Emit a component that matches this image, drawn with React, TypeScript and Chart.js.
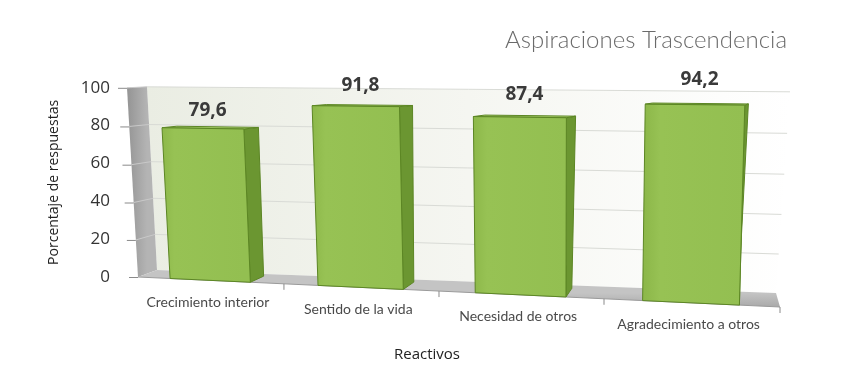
import React, { useEffect, useRef } from "react";
import { Chart, registerables } from "chart.js";

Chart.register(...registerables);

// ---------- data ----------
const categories = [
  "Crecimiento interior",
  "Sentido de la vida",
  "Necesidad de otros",
  "Agradecimiento a otros",
];
const values = [79.6, 91.8, 87.4, 94.2];
const valueLabels = ["79,6", "91,8", "87,4", "94,2"];
const yTickValues = [0, 20, 40, 60, 80, 100];
const chartTitle = "Aspiraciones Trascendencia";
const yAxisTitle = "Porcentaje de respuestas";
const xAxisTitle = "Reactivos";

type Pt = [number, number];

function squareToQuad(q: Pt[]) {
  const [p0, p1, p2, p3] = q;
  const dx1 = p1[0] - p2[0], dx2 = p3[0] - p2[0], dx3 = p0[0] - p1[0] + p2[0] - p3[0];
  const dy1 = p1[1] - p2[1], dy2 = p3[1] - p2[1], dy3 = p0[1] - p1[1] + p2[1] - p3[1];
  const den = dx1 * dy2 - dx2 * dy1;
  const g = (dx3 * dy2 - dx2 * dy3) / den;
  const h = (dx1 * dy3 - dx3 * dy1) / den;
  const a = p1[0] - p0[0] + g * p1[0], b = p3[0] - p0[0] + h * p3[0], c = p0[0];
  const d = p1[1] - p0[1] + g * p1[1], e = p3[1] - p0[1] + h * p3[1], f = p0[1];
  return (u: number, v: number): Pt => {
    const w = g * u + h * v + 1;
    return [(a * u + b * v + c) / w, (d * u + e * v + f) / w];
  };
}

function makeWarp(chart: any) {
  const { left: L, right: R, top: T, bottom: B } = chart.chartArea;
  const front = squareToQuad([[L, T], [R, T + 5], [R - 7, B + 30], [L + 11, B]]);
  const back = squareToQuad([[L + 20, T - 1], [R + 3, T + 4], [R - 11, B + 16], [L + 30, B - 7]]);
  const P = (u: number, t: number, z: number): Pt => {
    const f = front(u, t), b = back(u, t);
    return [f[0] + (b[0] - f[0]) * z, f[1] + (b[1] - f[1]) * z];
  };
  const toU = (x: number) => (x - L) / (R - L);
  const toT = (y: number) => (y - T) / (B - T);
  return { P, toU, toT };
}

function poly(ctx: CanvasRenderingContext2D, pts: Pt[]) {
  ctx.beginPath();
  ctx.moveTo(pts[0][0], pts[0][1]);
  for (let i = 1; i < pts.length; i++) ctx.lineTo(pts[i][0], pts[i][1]);
  ctx.closePath();
}

const perspectivePlugin = {
  id: "perspective3d",
  beforeDatasetsDraw(chart: any) {
    const ctx: CanvasRenderingContext2D = chart.ctx;
    const { P, toU, toT } = makeWarp(chart);
    const yScale = chart.scales.y;
    const ZB = 0.75;
    ctx.save();

    // back wall
    const bw: Pt[] = [P(0, 0, 1), P(1, 0, 1), P(1, 1, 1), P(0, 1, 1)];
    const gBack = ctx.createLinearGradient(bw[0][0], 0, bw[1][0], 0);
    gBack.addColorStop(0, "#eaede3");
    gBack.addColorStop(0.5, "#f5f6f1");
    gBack.addColorStop(1, "#ffffff");
    poly(ctx, bw);
    ctx.fillStyle = gBack;
    ctx.fill();

    // gridlines on back wall
    ctx.lineWidth = 1;
    for (const v of yTickValues) {
      if (v === 0) continue;
      const t = toT(yScale.getPixelForValue(v));
      const a = P(0, t, 1), b = P(1, t, 1);
      ctx.strokeStyle = "#d9dbd6";
      ctx.beginPath();
      ctx.moveTo(a[0], a[1]);
      ctx.lineTo(b[0], b[1]);
      ctx.stroke();
    }

    // left wall
    const lw: Pt[] = [P(0, 0, 0), P(0, 0, 1), P(0, 1, 1), P(0, 1, 0)];
    const gLeft = ctx.createLinearGradient(lw[0][0], 0, lw[1][0], 0);
    gLeft.addColorStop(0, "#949494");
    gLeft.addColorStop(1, "#b4b4b4");
    poly(ctx, lw);
    ctx.fillStyle = gLeft;
    ctx.fill();
    for (const v of yTickValues) {
      const t = toT(yScale.getPixelForValue(v));
      const a = P(0, t, 0), b = P(0, t, 1);
      if (v !== 0) {
        ctx.strokeStyle = "#c9c9c9";
        ctx.beginPath();
        ctx.moveTo(a[0], a[1]);
        ctx.lineTo(b[0], b[1]);
        ctx.stroke();
      }
      // tick mark
      ctx.strokeStyle = "#8a8a8a";
      ctx.beginPath();
      ctx.moveTo(a[0] - 9, a[1] + 0.5);
      ctx.lineTo(a[0], a[1] + 0.5);
      ctx.stroke();
    }

    // floor
    const fl: Pt[] = [P(0, 1, 0), P(1, 1, 0), P(1, 1, 1), P(0, 1, 1)];
    const gFloor = ctx.createLinearGradient(0, fl[2][1], 0, fl[1][1]);
    gFloor.addColorStop(0, "#c4c4c4");
    gFloor.addColorStop(1, "#a9a9a9");
    poly(ctx, fl);
    ctx.fillStyle = gFloor;
    ctx.fill();
    ctx.strokeStyle = "#9a9a9a";
    ctx.beginPath();
    ctx.moveTo(fl[0][0], fl[0][1]);
    ctx.lineTo(fl[1][0], fl[1][1]);
    ctx.stroke();

    // x tick marks
    const n = categories.length;
    ctx.strokeStyle = "#8a8a8a";
    for (let i = 1; i <= n; i++) {
      const p = P(i / n, 1, 0);
      ctx.beginPath();
      ctx.moveTo(p[0], p[1]);
      ctx.lineTo(p[0], p[1] + 6);
      ctx.stroke();
    }

    // bars
    const meta = chart.getDatasetMeta(0);
    meta.data.forEach((el: any, i: number) => {
      const { x, y, base, width } = el.getProps(["x", "y", "base", "width"], true);
      const u0 = toU(x - width / 2), u1 = toU(x + width / 2);
      const t0 = toT(y), t1 = toT(base);
      const side: Pt[] = [P(u1, t0, 0), P(u1, t0, ZB), P(u1, t1, ZB), P(u1, t1, 0)];
      const top: Pt[] = [P(u0, t0, 0), P(u1, t0, 0), P(u1, t0, ZB), P(u0, t0, ZB)];
      const front: Pt[] = [P(u0, t0, 0), P(u1, t0, 0), P(u1, t1, 0), P(u0, t1, 0)];
      ctx.lineJoin = "round";
      ctx.lineWidth = 1;
      ctx.strokeStyle = "#5c8624";
      poly(ctx, side);
      ctx.fillStyle = "#6b9631";
      ctx.fill();
      ctx.stroke();
      poly(ctx, top);
      ctx.fillStyle = "#a6cd68";
      ctx.fill();
      ctx.stroke();
      const gF = ctx.createLinearGradient(front[0][0], 0, front[1][0], 0);
      gF.addColorStop(0, "#8db84a");
      gF.addColorStop(0.15, "#97c254");
      gF.addColorStop(1, "#93bf51");
      poly(ctx, front);
      ctx.fillStyle = gF;
      ctx.fill();
      ctx.stroke();

      // value label
      const uc = (u0 + u1) / 2;
      const tp = P(uc, t0, 0);
      ctx.fillStyle = "#3a3a3a";
      ctx.font = "bold 19px 'Open Sans', sans-serif";
      ctx.textAlign = "center";
      ctx.textBaseline = "middle";
      ctx.fillText(valueLabels[i], tp[0] + 5, tp[1] - (16.5 + 10 * uc));

      // category label
      const bp = P(uc, t1, 0);
      ctx.fillStyle = "#4a4a4a";
      ctx.font = "14px Lato, 'Open Sans', sans-serif";
      ctx.fillText(categories[i], bp[0] - 2, bp[1] + 22);
    });

    // x axis title
    ctx.fillStyle = "#222";
    ctx.font = "15px 'Open Sans', sans-serif";
    ctx.textAlign = "center";
    ctx.textBaseline = "middle";
    ctx.fillText(xAxisTitle, 427, 355);

    ctx.restore();
    return false;
  },
};

export default function App() {
  const ref = useRef<HTMLCanvasElement | null>(null);
  useEffect(() => {
    if (!ref.current) return;
    const chart = new Chart(ref.current, {
      type: "bar",
      data: {
        labels: categories,
        datasets: [
          {
            data: values,
            backgroundColor: "#93bf51",
            categoryPercentage: 1,
            barPercentage: 0.55,
          },
        ],
      },
      options: {
        animation: false,
        responsive: true,
        maintainAspectRatio: false,
        layout: { padding: { left: 0, right: 67, top: 0, bottom: 113 } },
        plugins: {
          legend: { display: false },
          tooltip: { enabled: false },
          title: {
            display: true,
            text: chartTitle,
            align: "end",
            color: "#6a6a6a",
            font: { family: "Lato, 'Open Sans', sans-serif", size: 24, weight: "300" },
            padding: { top: 26, bottom: 33 },
          },
        },
        scales: {
          x: { display: false },
          y: {
            min: 0,
            max: 100,
            ticks: {
              stepSize: 20,
              padding: 17,
              color: "#333",
              font: { family: "'Open Sans', sans-serif", size: 17 },
            },
            grid: { display: false, drawTicks: false },
            border: { display: false },
            title: {
              display: true,
              text: yAxisTitle,
              color: "#222",
              font: { family: "'Open Sans', sans-serif", size: 14 },
              padding: { top: 46, bottom: 0 },
            },
            afterFit: (s: any) => {
              s.width = 127;
            },
          },
        },
      },
      plugins: [perspectivePlugin],
    });
    return () => chart.destroy();
  }, []);
  return (
    <div style={{ position: "absolute", left: 0, top: 0, width: 854, height: 390, background: "#fff" }}>
      <canvas ref={ref} />
    </div>
  );
}
